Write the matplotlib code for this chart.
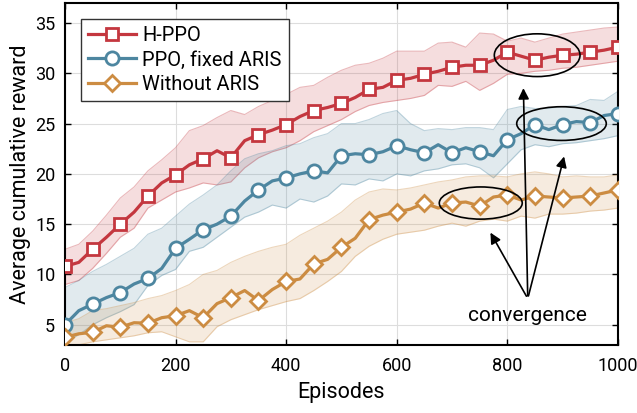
import matplotlib
matplotlib.use('Agg')
import matplotlib.pyplot as plt
import matplotlib.patches as patches
import numpy as np

plt.rcParams['font.family'] = ['Roboto', 'DejaVu Sans']

# episodes, one sample every 25
episodes = list(range(0, 1001, 25))

# H-PPO
hppo_mean = [10.8, 11.2, 12.5, 13.7, 15.0, 16.2, 17.8, 19.1, 19.9, 20.9, 21.5, 22.3, 21.6, 23.3,
             23.9, 24.35, 24.9, 25.7, 26.3, 26.6, 27.0, 27.6, 28.4, 28.6, 29.3, 29.5, 29.9, 30.2,
             30.6, 30.8, 30.8, 31.3, 32.1, 31.7, 31.3, 31.6, 31.8, 31.9, 32.1, 32.3, 32.6]
hppo_hi = [12.5, 13.0, 14.3, 15.9, 17.6, 18.7, 20.3, 21.4, 22.6, 24.3, 24.8, 25.6, 26.3, 25.9,
           26.7, 27.3, 27.9, 28.6, 28.8, 29.6, 30.3, 30.8, 31.0, 31.5, 32.2, 32.2, 32.2, 33.0,
           33.1, 32.6, 34.0, 33.9, 33.2, 33.5, 33.1, 33.5, 33.9, 34.1, 34.3, 34.5, 34.6]
hppo_lo = [9.0, 9.4, 10.6, 12.1, 13.7, 14.6, 16.6, 17.4, 18.2, 18.6, 19.1, 18.9, 19.2, 20.6,
           21.6, 22.2, 22.6, 23.3, 24.2, 24.8, 25.4, 26.2, 26.8, 27.1, 27.3, 27.5, 27.8, 28.8,
           28.7, 29.2, 28.3, 29.0, 29.9, 30.0, 30.2, 30.3, 30.5, 30.6, 30.8, 31.0, 31.2]

# PPO, fixed ARIS
ppo_mean = [5.0, 6.4, 7.05, 7.7, 8.2, 9.05, 9.6, 10.6, 12.6, 13.5, 14.45, 15.0, 15.8, 17.3,
            18.4, 19.3, 19.6, 20.0, 20.3, 20.1, 21.8, 22.0, 21.9, 22.2, 22.8, 22.4, 22.1, 22.9,
            22.1, 22.6, 22.2, 21.8, 23.4, 24.0, 24.9, 24.4, 24.9, 25.2, 25.1, 25.8, 26.0]
ppo_hi = [8.7, 9.4, 10.3, 11.0, 11.8, 12.6, 14.0, 14.6, 15.8, 17.0, 17.9, 18.9, 20.3, 21.5,
          22.0, 22.3, 22.8, 23.0, 23.6, 24.0, 25.0, 25.0, 25.4, 26.0, 26.3, 25.0, 24.3, 24.5,
          24.4, 24.6, 24.6, 24.4, 26.4, 26.7, 26.5, 26.5, 26.7, 26.8, 27.4, 27.3, 28.2]
ppo_lo = [3.3, 4.0, 5.0, 5.7, 6.3, 7.0, 8.9, 9.9, 10.5, 12.3, 12.7, 13.7, 14.7, 15.7,
          16.2, 16.9, 16.6, 17.5, 17.2, 17.8, 19.0, 18.9, 19.5, 19.3, 20.0, 19.8, 20.3, 20.5,
          20.9, 21.0, 20.6, 19.6, 21.0, 22.4, 22.9, 22.7, 23.0, 23.1, 23.3, 23.5, 23.8]

# Without ARIS
noaris_mean = [3.75, 4.1, 4.25, 4.9, 4.75, 5.2, 5.15, 5.7, 5.9, 6.4, 5.7, 7.1, 7.7, 8.4,
               7.4, 8.5, 9.3, 9.55, 11.05, 11.5, 12.7, 13.6, 15.45, 15.9, 16.2, 16.5, 17.1, 16.6,
               17.1, 17.2, 16.8, 17.7, 17.9, 17.4, 17.8, 17.7, 17.6, 17.7, 17.8, 18.1, 18.4]
noaris_hi = [5.2, 5.6, 6.4, 6.6, 6.9, 7.2, 7.6, 7.9, 8.4, 9.0, 10.0, 10.4, 11.2, 11.8,
             12.3, 12.7, 13.0, 13.9, 14.6, 15.3, 16.2, 17.4, 18.2, 18.5, 18.4, 18.6, 18.9, 19.2,
             19.4, 19.7, 19.8, 19.8, 19.7, 20.0, 20.2, 20.0, 19.7, 19.8, 19.7, 19.7, 19.9]
noaris_lo = [2.8, 3.0, 3.3, 3.5, 3.7, 3.9, 4.2, 4.3, 3.8, 3.3, 3.3, 4.8, 5.5, 6.0,
             6.5, 6.9, 7.3, 7.6, 8.4, 9.3, 10.3, 11.8, 12.8, 13.5, 14.0, 14.2, 14.4, 14.8,
             15.1, 14.8, 15.3, 15.5, 15.3, 15.8, 15.6, 16.0, 16.0, 16.1, 16.3, 16.4, 16.6]

labels = ['H-PPO', 'PPO, fixed ARIS', 'Without ARIS']
colors = ['#C4373F', '#4D86A0', '#CC8C42']
markers = ['s', 'o', 'D']
marker_sizes = [8.5, 9.5, 8]

fig = plt.figure(figsize=(6.37, 4.13), dpi=100)
ax = fig.add_axes([0.102, 0.165, 0.868, 0.828])

x = np.array(episodes)
mark_idx = [i for i, e in enumerate(episodes) if e % 50 == 0]
series = [(hppo_mean, hppo_lo, hppo_hi), (ppo_mean, ppo_lo, ppo_hi), (noaris_mean, noaris_lo, noaris_hi)]

for (m, lo, hi), lab, c, mk, ms in zip(series, labels, colors, markers, marker_sizes):
    ax.fill_between(x, lo, hi, color=c, alpha=0.17, linewidth=0, zorder=1)
    ax.plot(x, lo, color=c, alpha=0.35, lw=0.8, zorder=1)
    ax.plot(x, hi, color=c, alpha=0.35, lw=0.8, zorder=1)
    ax.plot(x, m, color=c, lw=2.3, marker=mk, markevery=mark_idx, markersize=ms,
            markerfacecolor='white', markeredgecolor=c, markeredgewidth=2.0,
            label=lab, zorder=3)

# convergence ellipses
ellipses = [(854, 31.8, 155, 4.25), (898, 25.0, 162, 3.35), (752, 17.1, 150, 3.2)]
for cx, cy, w, h in ellipses:
    ax.add_patch(patches.Ellipse((cx, cy), w, h, fill=False, edgecolor='black', lw=1.2, zorder=4))

# arrows from the label
arrow_src = (837, 7.6)
arrow_tips = [(829, 28.8), (904, 22.0), (767, 14.4)]
for tip in arrow_tips:
    ax.annotate('', xy=tip, xytext=arrow_src,
                arrowprops=dict(arrowstyle='-|>', color='black', lw=1.2, mutation_scale=16),
                zorder=5)
ax.text(837, 5.9, 'convergence', ha='center', va='center', fontsize=15, zorder=5)

ax.set_xlim(0, 1000)
ax.set_ylim(3, 37)
ax.set_xticks(range(0, 1001, 200))
ax.set_yticks(range(5, 36, 5))
ax.tick_params(direction='in', top=True, right=True, labelsize=13, length=4, width=1)
ax.tick_params(axis='x', pad=9)
ax.tick_params(axis='y', pad=7)
ax.grid(True, color='#DDDDDD', lw=0.8)
ax.set_axisbelow(True)
for s in ax.spines.values():
    s.set_linewidth(1.5)

ax.set_xlabel('Episodes', fontsize=15.5, labelpad=5)
ax.set_ylabel('Average cumulative reward', fontsize=15.5, labelpad=3)

leg = ax.legend(loc='upper left', bbox_to_anchor=(0.029, 0.953), borderaxespad=0,
                fontsize=14.5, handlelength=2.4, handletextpad=0.3, labelspacing=0.27,
                borderpad=0.35, fancybox=False, framealpha=1, edgecolor='#333333')
leg.get_frame().set_linewidth(1.0)

fig.savefig('out.png', dpi=100)
